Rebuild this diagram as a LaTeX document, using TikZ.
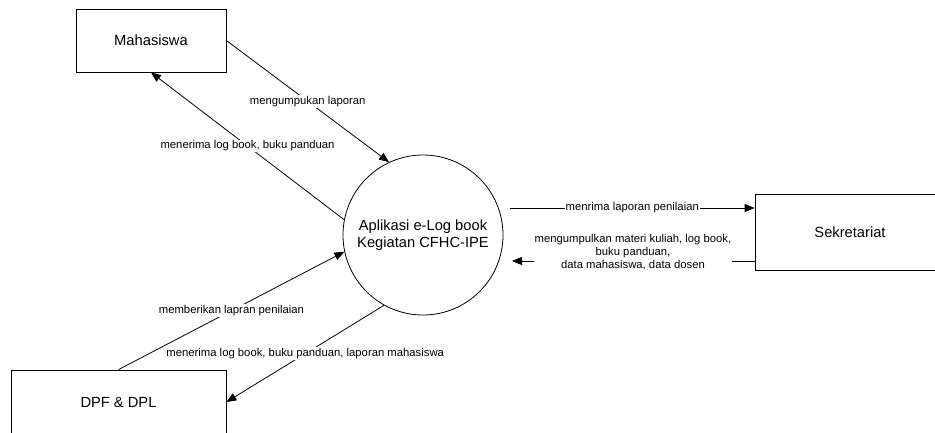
\documentclass[tikz,border=0pt]{standalone}
\usepackage{fontspec}
\setmainfont{Liberation Sans}
\usetikzlibrary{arrows.meta,calc}
\begin{document}
\begin{tikzpicture}[x=1pt,y=-1pt,
  ent/.style={draw,line width=0.8pt,inner sep=0pt,font=\fontsize{14.7}{17}\selectfont},
  proc/.style={draw,circle,line width=0.8pt,inner sep=0pt,minimum size=160pt,align=center,font=\fontsize{14.7}{17}\selectfont},
  flow/.style={draw,line width=0.8pt,-{Triangle[length=10pt,width=8pt]}},
  lbl/.style={fill=white,inner sep=1pt,font=\fontsize{11.3}{13}\selectfont}]
\useasboundingbox (0,0) rectangle (935,432);
\clip (0,0) rectangle (935,432);
\node[ent,minimum width=150pt,minimum height=63pt] (mhs) at (151,40.5) {Mahasiswa};
\node[ent,minimum width=215pt,minimum height=64pt] (dpf) at (118.5,402) {DPF \& DPL};
\node[ent,minimum width=190pt,minimum height=76pt] (sek) at (850,232) {Sekretariat};
\node[proc] (c) at (423,235) {Aplikasi e-Log book\\Kegiatan CFHC-IPE};
\coordinate (a5s) at (510,208);
\coordinate (a5e) at (sek.west |- a5s);
\coordinate (a6e) at (512,261);
\coordinate (a6s) at (sek.west |- a6e);
\draw[flow] (mhs.east) -- node[lbl]{mengumpukan laporan} (c.115.6);
\draw[flow] (c.169.4) -- node[lbl]{menerima log book, buku panduan} (mhs.south);
\draw[flow] (dpf.north) -- node[lbl]{memberikan lapran penilaian} (c.192);
\draw[flow] (c.241) -- node[lbl]{menerima log book, buku panduan, laporan mahasiswa} (dpf.east);
\draw[flow] (a5s) -- node[lbl]{menrima laporan penilaian} (a5e);
\draw[flow] (a6s) -- (a6e);
\node[lbl] (l6) at (633,253) {\begin{tabular}{@{}c@{}}mengumpulkan materi kuliah, log book,\\buku panduan,\\data mahasiswa, data dosen\end{tabular}};
\end{tikzpicture}
\end{document}
